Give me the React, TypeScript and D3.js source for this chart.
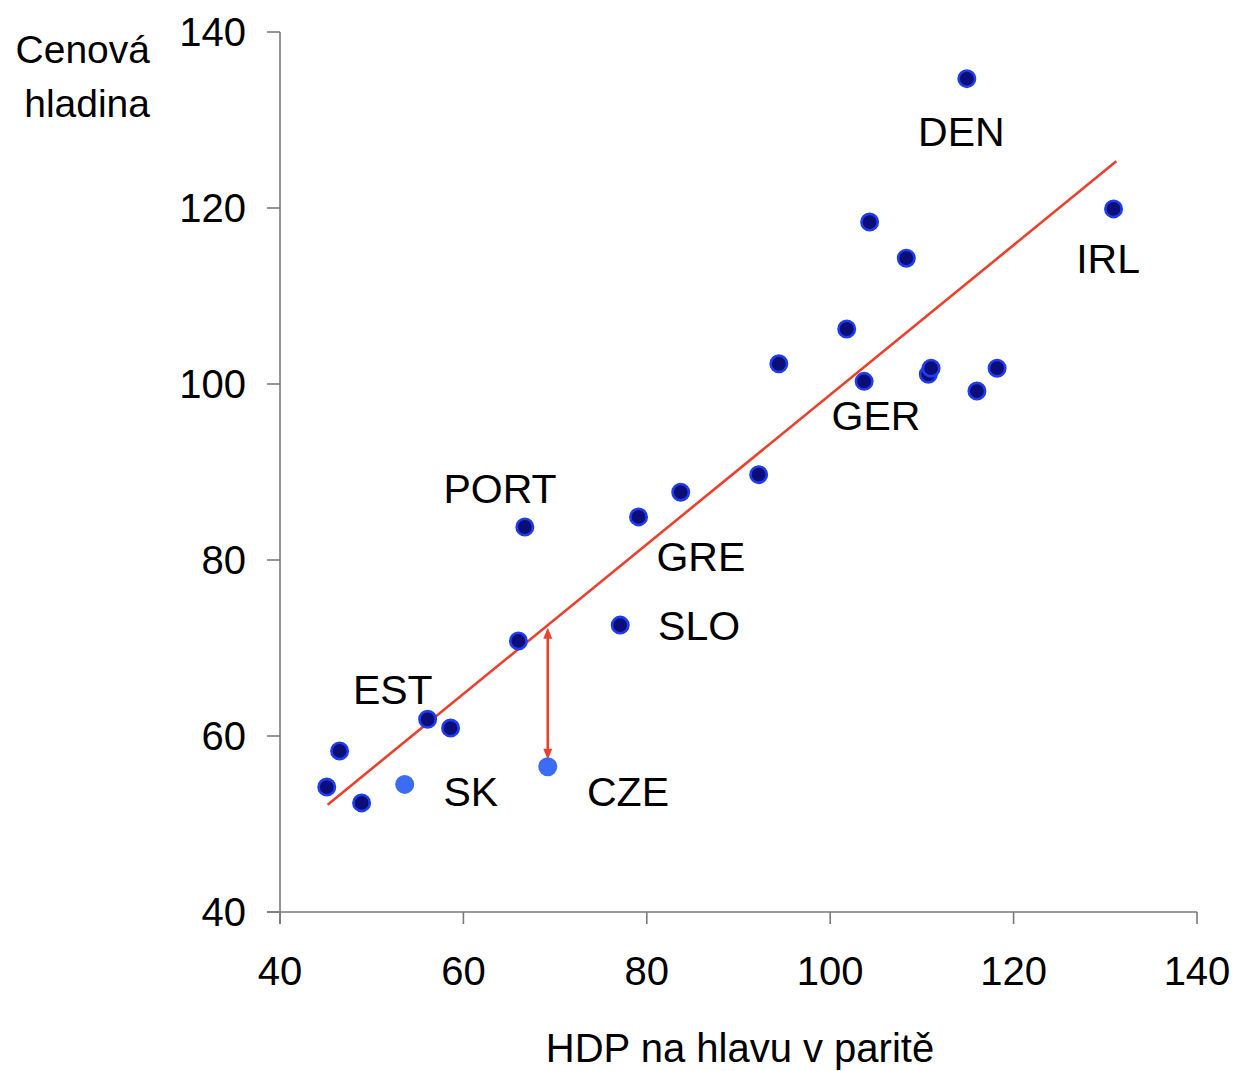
import React from "react";
import * as d3 from "d3";

const W = 1237;
const H = 1071;

// Data: GDP per capita in PPP (x) vs. price level (y)
const gdp = [45.1, 46.5, 48.9, 53.6, 56.1, 58.6, 66.0, 66.7, 69.2, 77.1, 79.1, 83.7, 92.2, 94.4, 101.8, 103.7, 104.3, 108.3, 114.9, 110.7, 111.0, 116.0, 118.2, 130.9];
const price = [54.2, 58.3, 52.4, 54.5, 61.9, 60.9, 70.8, 83.75, 56.5, 72.6, 84.9, 87.7, 89.7, 102.3, 106.25, 100.3, 118.4, 114.3, 134.7, 101.1, 101.8, 99.2, 101.8, 119.9];
const highlighted = [false, false, false, true, false, false, false, false, true, false, false, false, false, false, false, false, false, false, false, false, false, false, false, false];

const trendX = [45.2, 131.2];
const trendY = [52.2, 125.3];

const arrowX = 69.2;
const arrowFrom = 72.3;
const arrowTo = 57.3;

const labelNames = ["DEN", "IRL", "GER", "PORT", "GRE", "SLO", "EST", "SK", "CZE"];
const labelX = [114.3, 130.3, 105.0, 64.0, 85.9, 85.7, 52.3, 60.8, 77.95];
const labelY = [128.75, 114.3, 96.4, 88.2, 80.45, 72.6, 65.3, 53.75, 53.75];

const xTicks = [40, 60, 80, 100, 120, 140];
const yTicks = [40, 60, 80, 100, 120, 140];

const yTitle = ["Cenová", "hladina"];
const xTitle = "HDP na hlavu v paritě";

const FONT = "'Liberation Sans', Arial, Helvetica, sans-serif";

export default function App() {
  const x = d3.scaleLinear().domain([40, 140]).range([280, 1197]);
  const y = d3.scaleLinear().domain([40, 140]).range([912, 32]);
  const axisColor = "#7a7a7a";
  const red = "#e8412c";

  const line = d3.line<number>()
    .x((_, i) => x(trendX[i]))
    .y((_, i) => y(trendY[i]));

  const ax = x(arrowX);
  const a1 = y(arrowFrom);
  const a2 = y(arrowTo);
  const ah = 11;
  const aw = 4.5;

  return (
    <svg width={W} height={H} style={{ position: "absolute", left: 0, top: 0, background: "#fff" }} fontFamily={FONT}>
      {/* axes */}
      <line x1={x(40)} x2={x(40)} y1={y(140)} y2={y(40) + 12} stroke={axisColor} strokeWidth={1.6} />
      <line x1={x(40) - 13} x2={x(140)} y1={y(40)} y2={y(40)} stroke={axisColor} strokeWidth={1.6} />
      {yTicks.map((t) => (
        <g key={"y" + t}>
          <line x1={x(40) - 13} x2={x(40)} y1={y(t)} y2={y(t)} stroke={axisColor} strokeWidth={1.6} />
          <text x={246} y={y(t)} dy="0.36em" textAnchor="end" fontSize={40} fill="#000">{t}</text>
        </g>
      ))}
      {xTicks.map((t) => (
        <g key={"x" + t}>
          <line x1={x(t)} x2={x(t)} y1={y(40)} y2={y(40) + 12} stroke={axisColor} strokeWidth={1.6} />
          <text x={x(t)} y={985} textAnchor="middle" fontSize={40} fill="#000">{t}</text>
        </g>
      ))}

      {/* titles */}
      <text x={150} y={63} textAnchor="end" fontSize={39} fill="#000">{yTitle[0]}</text>
      <text x={150} y={117} textAnchor="end" fontSize={39} fill="#000">{yTitle[1]}</text>
      <text x={740} y={1062} textAnchor="middle" fontSize={40} fill="#000">{xTitle}</text>

      {/* trend line */}
      <path d={line(trendX) || ""} stroke={red} strokeWidth={2.6} fill="none" />

      {/* arrow */}
      <line x1={ax} x2={ax} y1={a1 + 4} y2={a2 - 4} stroke={red} strokeWidth={2.6} />
      <path d={`M${ax},${a1} L${ax - aw},${a1 + ah} L${ax + aw},${a1 + ah} Z`} fill={red} />
      <path d={`M${ax},${a2} L${ax - aw},${a2 - ah} L${ax + aw},${a2 - ah} Z`} fill={red} />

      {/* points */}
      {gdp.map((g, i) => (
        highlighted[i] ? (
          <circle key={i} cx={x(g)} cy={y(price[i])} r={9.5} fill="#3a6cf4" />
        ) : (
          <circle key={i} cx={x(g)} cy={y(price[i])} r={8.2} fill="#0b0d78" stroke="#1f3cf0" strokeWidth={2.6} />
        )
      ))}

      {/* labels */}
      {labelNames.map((n, i) => (
        <text key={n} x={x(labelX[i])} y={y(labelY[i])} dy="0.36em" textAnchor="middle" fontSize={41} fill="#000">{n}</text>
      ))}
    </svg>
  );
}
